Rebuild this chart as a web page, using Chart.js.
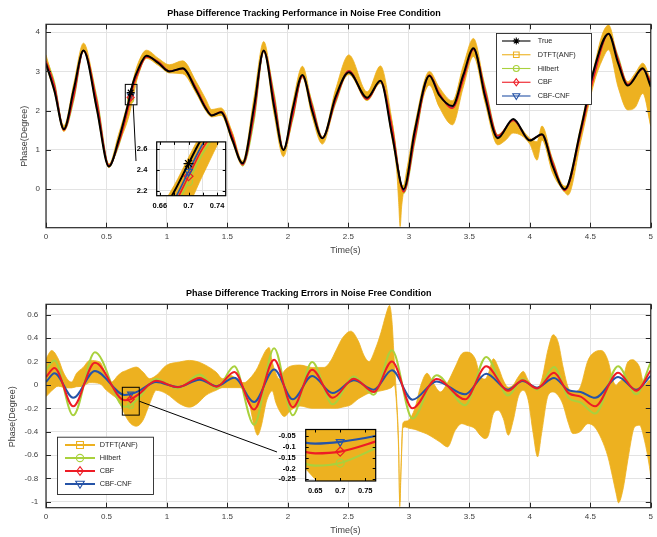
<!DOCTYPE html>
<html><head><meta charset="utf-8"><title>Phase Difference Tracking</title>
<script src="https://cdn.jsdelivr.net/npm/chart.js@4.4.1/dist/chart.umd.min.js"></script>
<style>
html,body{margin:0;padding:0;background:#fff;overflow:hidden}
#wrap{position:relative;width:657px;height:537px;background:#fff}
#wrap canvas{position:absolute}
</style></head><body>
<div id="wrap">
<canvas id="cTop" width="657" height="268" style="left:0;top:0"></canvas>
<canvas id="cBot" width="657" height="269" style="left:0;top:268px"></canvas>
<canvas id="cTopIn" width="112" height="88" style="left:120px;top:128px"></canvas>
<canvas id="cBotIn" width="112" height="85" style="left:270px;top:415px"></canvas>
</div>
<script>
// ---------------- DATA ----------------
const seriesNames = ['True','DTFT(ANF)','Hilbert','CBF','CBF-CNF'];
const xTicks = [0,0.5,1,1.5,2,2.5,3,3.5,4,4.5,5];
const yTicksTop = [0,1,2,3,4];
const yTicksBot = [-1,-0.8,-0.6,-0.4,-0.2,0,0.2,0.4,0.6];
const insetTopXTicks = [0.66,0.68,0.70,0.72,0.74];
const insetTopXLabels = [0.66,0.70,0.74];
const insetTopYTicks = [2.2,2.4,2.6];
const insetBotXTicks = [0.65,0.70,0.75];
const insetBotYTicks = [-0.25,-0.2,-0.15,-0.1,-0.05];
const markerTime = 0.7;

// top plot: phase difference (degree)
const tTop = [0,0.07,0.148,0.23,0.31,0.42,0.52,0.60,0.68,0.70,0.72,0.76,0.83,0.93,1.02,1.13,1.24,1.32,1.37,1.447,1.54,1.625,1.72,1.80,1.886,1.963,2.04,2.12,2.20,2.285,2.395,2.504,2.655,2.765,2.86,2.957,3.05,3.17,3.25,3.36,3.45,3.534,3.63,3.735,3.863,4.00,4.10,4.19,4.29,4.42,4.53,4.651,4.73,4.81,4.934,5.00];
const trueTop = [3.20,2.50,1.53,2.55,3.53,2.05,0.58,1.25,2.19,2.46,2.72,3.04,3.40,3.21,3.00,3.08,2.53,2.06,1.88,1.96,1.26,0.66,2.10,3.53,2.10,1.00,2.05,2.91,2.00,1.30,2.36,2.98,2.33,2.76,1.40,0.00,1.51,2.89,2.40,2.12,2.91,3.59,2.36,1.30,1.79,1.24,1.40,0.58,0.00,1.51,3.04,3.96,3.21,2.64,3.08,2.61];
const cnfTop = [3.225,2.60,1.525,2.44,3.53,2.17,0.60,1.19,2.107,2.383,2.65,2.986,3.38,3.235,3.005,3.065,2.57,2.085,1.88,1.96,1.32,0.63,1.954,3.52,2.233,1.00,1.927,2.89,2.076,1.30,2.30,3.01,2.30,2.76,1.525,-0.04,1.39,2.90,2.43,2.08,2.83,3.57,2.455,1.33,1.76,1.25,1.39,0.64,-0.02,1.45,2.93,3.96,3.278,2.66,3.06,2.69];
const cbfTop = [3.268,2.645,1.51,2.367,3.53,2.24,0.61,1.16,2.062,2.338,2.61,2.957,3.37,3.245,3.01,3.065,2.585,2.095,1.88,1.97,1.365,0.63,1.89,3.53,2.316,1.01,1.86,2.88,2.13,1.31,2.26,3.02,2.29,2.76,1.60,-0.07,1.315,2.91,2.45,2.06,2.79,3.56,2.52,1.36,1.75,1.25,1.39,0.68,-0.03,1.42,2.86,3.96,3.315,2.67,3.06,2.735];
const hilbertTop = [3.33,2.71,1.50,2.29,3.53,2.33,0.63,1.11,2.007,2.285,2.56,2.923,3.36,3.26,3.01,3.055,2.61,2.11,1.87,1.96,1.415,0.60,1.76,3.52,2.415,1.03,1.79,2.88,2.196,1.32,2.21,3.03,2.27,2.78,1.696,-0.10,1.23,2.93,2.48,2.03,2.74,3.55,2.60,1.38,1.72,1.25,1.38,0.73,-0.05,1.36,2.795,3.96,3.37,2.69,3.04,2.806];
const tBandTop = [0,0.07,0.148,0.23,0.31,0.42,0.52,0.60,0.68,0.70,0.72,0.76,0.83,0.93,1.02,1.13,1.24,1.32,1.37,1.447,1.54,1.625,1.72,1.80,1.886,1.963,2.04,2.12,2.20,2.285,2.395,2.504,2.655,2.765,2.86,2.90,2.915,2.928,2.94,2.957,2.98,3.05,3.17,3.25,3.36,3.45,3.534,3.63,3.735,3.80,3.863,4.00,4.06,4.10,4.19,4.29,4.315,4.42,4.53,4.60,4.651,4.73,4.81,4.87,4.934,5.00];
const dtftTopHi = [3.42,2.65,1.62,2.70,3.72,2.25,0.64,1.40,2.25,2.52,2.78,3.20,3.54,3.33,3.17,3.27,2.75,2.30,2.03,2.07,1.45,0.72,2.35,3.76,2.25,1.02,2.20,3.13,2.15,1.33,2.55,3.42,2.48,3.14,1.75,0.85,0.50,0.25,0.10,0.10,0.45,1.65,3.00,2.60,2.25,3.15,3.84,2.55,1.35,1.55,1.72,1.30,1.21,1.61,0.72,0.08,0.15,1.60,3.10,3.95,4.18,3.30,2.74,2.95,3.21,2.79];
const dtftTopLo = [3.15,2.45,1.47,2.45,3.50,1.98,0.55,1.15,1.80,2.05,2.35,2.88,3.33,3.15,2.96,2.94,2.45,2.00,1.84,1.88,1.20,0.60,1.95,3.48,1.90,0.83,1.85,2.84,1.85,1.15,2.25,2.92,2.26,2.70,1.30,0.45,-0.30,-0.95,-0.45,-0.05,0.20,1.40,2.65,2.10,1.64,2.60,3.38,2.20,1.13,1.25,1.43,1.15,0.74,1.25,0.40,-0.08,-0.15,1.20,2.70,3.30,3.55,2.60,2.02,2.08,2.44,1.60];

// bottom plot: tracking errors (degree)
const tErr = [0,0.07,0.225,0.404,0.65,0.70,0.77,0.91,1.09,1.27,1.41,1.557,1.72,1.886,2.04,2.2,2.37,2.545,2.71,2.86,3.03,3.23,3.465,3.64,3.82,3.94,4.06,4.2,4.32,4.42,4.54,4.73,4.88,5.0];
const cnfErr = [0.025,0.10,-0.11,0.12,-0.085,-0.077,-0.05,0.025,-0.018,0.045,-0.01,0.062,-0.146,0.133,-0.123,0.076,-0.069,0.04,-0.04,0.125,-0.126,0.03,-0.08,0.096,-0.04,0.033,-0.023,0.06,-0.045,-0.06,-0.11,0.068,-0.04,0.08];
const cbfErr = [0.068,0.145,-0.183,0.19,-0.13,-0.122,-0.076,0.035,-0.02,0.06,-0.015,0.11,-0.21,0.216,-0.19,0.13,-0.11,0.054,-0.06,0.2,-0.2,0.05,-0.123,0.16,-0.05,0.04,-0.03,0.105,-0.07,-0.10,-0.183,0.105,-0.05,0.125];
const hilbertErr = [0.13,0.21,-0.26,0.28,-0.187,-0.175,-0.107,0.05,-0.03,0.09,-0.03,0.16,-0.34,0.315,-0.26,0.196,-0.166,0.073,-0.083,0.296,-0.288,0.082,-0.174,0.24,-0.09,0.05,-0.04,0.153,-0.11,-0.15,-0.245,0.16,-0.08,0.196];
const tBandErr = [0,0.047,0.101,0.143,0.184,0.211,0.253,0.307,0.362,0.445,0.50,0.541,0.596,0.63,0.655,0.70,0.747,0.802,0.857,0.912,0.994,1.104,1.186,1.25,1.323,1.406,1.46,1.529,1.598,1.64,1.68,1.72,1.75,1.78,1.82,1.845,1.87,1.90,1.93,1.97,2.02,2.10,2.20,2.30,2.35,2.40,2.45,2.52,2.58,2.63,2.67,2.72,2.77,2.81,2.84,2.86,2.88,2.895,2.915,2.925,2.935,2.95,2.97,3.00,3.05,3.10,3.15,3.20,3.26,3.32,3.383,3.438,3.479,3.548,3.589,3.63,3.658,3.699,3.74,3.781,3.822,3.863,3.905,3.946,3.987,4.028,4.064,4.097,4.152,4.193,4.234,4.275,4.316,4.357,4.412,4.481,4.536,4.591,4.646,4.687,4.714,4.733,4.769,4.81,4.852,4.866,4.907,4.948,4.989,5.0];
const dtftErrHi = [0.224,0.295,0.224,0.11,0.04,0.025,0.10,0.15,0.21,0.196,0.082,0.025,0.082,0.11,0.12,0.14,0.153,0.11,0.054,0.082,0.167,0.196,0.21,0.20,0.167,0.11,0.054,0.08,0.025,0.02,0.05,0.10,0.15,0.22,0.30,0.32,0.20,0.10,0.05,0.12,0.16,0.17,0.15,0.15,0.20,0.30,0.40,0.46,0.38,0.25,0.20,0.30,0.45,0.60,0.68,0.55,0.20,-0.05,-0.50,-1.00,-0.70,-0.33,-0.31,-0.30,-0.20,0.00,0.10,0.02,-0.06,0.02,0.153,0.267,0.281,0.224,0.08,0.05,0.10,0.224,0.15,0.04,-0.02,0.0,0.07,0.116,0.04,-0.01,-0.02,0.04,0.31,0.429,0.366,0.153,-0.018,-0.06,-0.03,0.21,0.281,0.295,0.21,0.04,-0.003,0.02,0.06,0.196,0.216,0.21,0.153,-0.003,0.04,0.04];
const dtftErrLo = [-0.10,-0.05,-0.01,-0.02,-0.025,-0.025,-0.015,-0.01,0.02,0.011,-0.046,-0.08,-0.13,-0.20,-0.26,-0.33,-0.353,-0.302,-0.16,-0.046,-0.074,-0.16,-0.19,-0.16,-0.088,-0.046,-0.023,-0.023,-0.023,-0.05,-0.15,-0.35,-0.43,-0.35,-0.15,-0.08,-0.05,-0.15,-0.22,-0.27,-0.22,-0.18,-0.20,-0.20,-0.20,-0.20,-0.19,-0.17,-0.12,-0.09,-0.07,-0.06,-0.05,-0.04,-0.03,-0.02,0.0,-0.12,-0.55,-1.04,-0.75,-0.37,-0.36,-0.37,-0.38,-0.40,-0.42,-0.45,-0.49,-0.53,-0.388,-0.331,-0.345,-0.374,-0.43,-0.459,-0.43,-0.245,-0.217,-0.288,-0.43,-0.302,-0.10,-0.046,-0.131,-0.416,-0.615,-0.416,-0.088,-0.06,-0.09,-0.17,-0.317,-0.416,-0.402,-0.331,-0.359,-0.459,-0.615,-0.80,-0.93,-1.008,-0.90,-0.644,-0.40,-0.359,-0.345,-0.473,-0.70,-0.786];

// zoom windows [xmin, xmax, ymin, ymax]
const zoomTop = [0.6555,0.752,2.15,2.67];
const zoomBot = [0.631,0.771,-0.258,-0.02];

// ---------------- STYLE ----------------
const FONT = '"Liberation Sans", Arial, Helvetica, sans-serif';
Chart.defaults.font.family = FONT;
const COL = {true:'#000000', dtft:'#EDB120', hil:'#A9D13D', cbf:'#EE1C25', cnf:'#2553A7'};

function pts(xs, ys){ return xs.map((x,i)=>({x:x, y:ys[i]})); }
function lineDs(label, xs, ys, color, w, style, rot, r){
  return {label, data: pts(xs,ys), borderColor: color, backgroundColor:'rgba(0,0,0,0)', borderWidth: w,
    pointStyle: style, pointRotation: rot||0, pointBorderColor: color, pointBackgroundColor:'rgba(0,0,0,0)',
    pointBorderWidth: 1.2, pointRadius: c => (c.raw && c.raw.x === markerTime) ? r : 0, pointHoverRadius:0,
    fill:false, cubicInterpolationMode:'monotone'};
}
function bandDs(xs, hi, lo, color){
  return [
    {label:'hi', data: pts(xs,hi), borderColor: color, backgroundColor: color, borderWidth: 0.8, pointRadius:0, fill:'+1', cubicInterpolationMode:'monotone'},
    {label:'lo', data: pts(xs,lo), borderColor: color, backgroundColor: color, borderWidth: 0.8, pointRadius:0, fill:false, cubicInterpolationMode:'monotone'}
  ];
}
function drawMarker(ctx, style, x, y, r, color){
  ctx.save(); ctx.strokeStyle = color; ctx.lineWidth = 1.1; ctx.beginPath();
  if (style === 'star'){ for (let k=0;k<4;k++){ const a=k*Math.PI/4; ctx.moveTo(x-r*Math.cos(a), y-r*Math.sin(a)); ctx.lineTo(x+r*Math.cos(a), y+r*Math.sin(a)); } }
  else if (style === 'rect'){ ctx.rect(x-r*0.8, y-r*0.8, 1.6*r, 1.6*r); }
  else if (style === 'circle'){ ctx.arc(x, y, r*0.85, 0, 2*Math.PI); }
  else if (style === 'rectRot'){ ctx.moveTo(x, y-r); ctx.lineTo(x+r*0.75, y); ctx.lineTo(x, y+r); ctx.lineTo(x-r*0.75, y); ctx.closePath(); }
  else if (style === 'triDown'){ ctx.moveTo(x-r, y-r*0.65); ctx.lineTo(x+r, y-r*0.65); ctx.lineTo(x, y+r); ctx.closePath(); }
  ctx.stroke(); ctx.restore();
}

// ---------------- PLUGINS ----------------
const bgPlugin = {id:'areaBg', beforeDraw(c, a, o){ if(!o.color) return; const ar=c.chartArea, ctx=c.ctx; ctx.save(); ctx.fillStyle=o.color; ctx.fillRect(ar.left, ar.top, ar.right-ar.left, ar.bottom-ar.top); ctx.restore(); }};
const boxPlugin = {id:'mbox', afterDatasetsDraw(c, a, o){
  const ctx=c.ctx, ar=c.chartArea, x=c.scales.x, y=c.scales.y, L=o.tick||5;
  ctx.save(); ctx.strokeStyle=o.color||'#262626'; ctx.lineWidth=o.width||1;
  ctx.beginPath();
  x.ticks.forEach(t=>{ const p=Math.round(x.getPixelForValue(t.value))+0.5; ctx.moveTo(p, ar.bottom); ctx.lineTo(p, ar.bottom-L); ctx.moveTo(p, ar.top); ctx.lineTo(p, ar.top+L); });
  y.ticks.forEach(t=>{ const p=Math.round(y.getPixelForValue(t.value))+0.5; ctx.moveTo(ar.left, p); ctx.lineTo(ar.left+L, p); ctx.moveTo(ar.right, p); ctx.lineTo(ar.right-L, p); });
  ctx.stroke();
  ctx.lineWidth=o.frame||1.2;
  ctx.strokeRect(ar.left, ar.top, ar.right-ar.left, ar.bottom-ar.top);
  ctx.restore();
}};
const zoomPlugin = {id:'zoomRect', afterDatasetsDraw(c, a, o){
  if(!o.rect) return;
  const ctx=c.ctx, x=c.scales.x, y=c.scales.y, r=o.rect;
  const x0=x.getPixelForValue(r[0]), x1=x.getPixelForValue(r[1]), y0=y.getPixelForValue(r[3]), y1=y.getPixelForValue(r[2]);
  ctx.save(); ctx.strokeStyle='#000'; ctx.lineWidth=1;
  ctx.strokeRect(x0, y0, x1-x0, y1-y0);
  let sx, sy;
  if (o.from === 'bottom'){ sx = x0 + (x1-x0)*0.68; sy = y1; } else { sx = x1; sy = (y0+y1)/2; }
  ctx.beginPath(); ctx.moveTo(sx, sy); ctx.lineTo(o.to[0], o.to[1]); ctx.stroke();
  ctx.restore();
}};
const textPlugin = {id:'mtext', afterDraw(c, a, o){
  const ctx=c.ctx;
  (o.items||[]).forEach(it=>{ ctx.save(); ctx.font=it.font; ctx.fillStyle=it.color; ctx.textAlign='center'; ctx.textBaseline='middle';
    ctx.translate(it.x, it.y); if(it.rot) ctx.rotate(it.rot); ctx.fillText(it.text, 0, 0); ctx.restore(); });
}};
const legendPlugin = {id:'mlegend', afterDraw(c, a, o){
  if(!o.items) return;
  const ctx=c.ctx, b=o.box;
  ctx.save(); ctx.fillStyle='#fff'; ctx.fillRect(b[0], b[1], b[2], b[3]);
  ctx.strokeStyle='#262626'; ctx.lineWidth=0.9; ctx.strokeRect(b[0]+0.5, b[1]+0.5, b[2], b[3]);
  o.items.forEach((it, i)=>{
    const cy=o.y0 + i*o.dy;
    ctx.strokeStyle=it.color; ctx.lineWidth=o.lw; ctx.beginPath(); ctx.moveTo(o.lx[0], cy); ctx.lineTo(o.lx[1], cy); ctx.stroke();
    drawMarker(ctx, it.style, o.mx, cy, o.mr, it.color);
    ctx.fillStyle='#262626'; ctx.font=o.font; ctx.textAlign='left'; ctx.textBaseline='middle'; ctx.fillText(it.label, o.tx, cy);
  });
  ctx.restore();
}};

function makeScales(cfg){
  const tickFont = cfg.tickFont || {family:FONT, size:8};
  const tickColor = cfg.tickColor || '#404040';
  return {
    x:{type:'linear', min:cfg.x[0], max:cfg.x[1],
      afterBuildTicks: s=>{ s.ticks = cfg.xt.map(v=>({value:v})); },
      afterFit: s=>{ s.height = cfg.xh; },
      grid:{color:'#e3e3e3', lineWidth:1, drawTicks:false}, border:{display:false},
      ticks:{font:tickFont, color:tickColor, padding:cfg.xpad, autoSkip:false, maxRotation:0, minRotation:0,
        callback: v => (cfg.xl ? (cfg.xl.indexOf(v) >= 0 ? String(v) : '') : String(v))}},
    y:{type:'linear', min:cfg.y[0], max:cfg.y[1],
      afterBuildTicks: s=>{ s.ticks = cfg.yt.map(v=>({value:v})); },
      afterFit: s=>{ s.width = cfg.yw; },
      grid:{color:'#e3e3e3', lineWidth:1, drawTicks:false}, border:{display:false},
      ticks:{font:tickFont, color:tickColor, padding:cfg.ypad, autoSkip:false, callback: v => String(v)}}
  };
}
function baseOptions(pad, scales, plugins){
  return {responsive:false, animation:false, devicePixelRatio:1, events:[],
    layout:{padding:pad},
    plugins:Object.assign({legend:{display:false}, tooltip:{enabled:false}, title:{display:false}}, plugins),
    scales:scales};
}

const axFont = '9px ' + FONT, titleFont = 'bold 9px ' + FONT;

// ---------------- TOP CHART ----------------
new Chart(document.getElementById('cTop'), {
  type:'line',
  data:{datasets:[
    lineDs(seriesNames[0], tTop, trueTop, COL.true, 2, 'star', 0, 4),
    lineDs(seriesNames[3], tTop, cbfTop, COL.cbf, 1.5, 'rectRot', 0, 3.5),
    lineDs(seriesNames[4], tTop, cnfTop, COL.cnf, 1.5, 'triangle', 180, 3.5),
    ...bandDs(tBandTop, dtftTopHi, dtftTopLo, COL.dtft),
    lineDs(seriesNames[2], tTop, hilbertTop, COL.hil, 1.5, 'circle', 0, 3)
  ]},
  options: baseOptions({left:0, right:4, top:24.3, bottom:0},
    makeScales({x:[0,5], y:[-0.98,4.2], xt:xTicks, yt:yTicksTop, xh:40.3, yw:46, xpad:4, ypad:6}),
    {
      mbox:{color:'#262626', width:1, tick:5, frame:1.2},
      zoomRect:{rect:zoomTop, from:'bottom', to:[136,161]},
      mtext:{items:[
        {text:'Phase Difference Tracking Performance in Noise Free Condition', x:304, y:14, font:titleFont, color:'#000'},
        {text:'Time(s)', x:345.3, y:250.8, font:axFont, color:'#404040'},
        {text:'Phase(Degree)', x:24.5, y:136.3, font:axFont, color:'#404040', rot:-Math.PI/2}
      ]},
      mlegend:{box:[496,33,95,71], y0:41, dy:13.75, lx:[502,530.5], mx:516.3, mr:3.5, tx:537.7, lw:1.1, font:'7.3px '+FONT,
        items:[
          {label:seriesNames[0], color:COL.true, style:'star'},
          {label:seriesNames[1], color:COL.dtft, style:'rect'},
          {label:seriesNames[2], color:COL.hil, style:'circle'},
          {label:seriesNames[3], color:COL.cbf, style:'rectRot'},
          {label:seriesNames[4], color:COL.cnf, style:'triDown'}
        ]}
    }),
  plugins:[boxPlugin, zoomPlugin, textPlugin, legendPlugin]
});

// ---------------- BOTTOM CHART ----------------
new Chart(document.getElementById('cBot'), {
  type:'line',
  data:{datasets:[
    lineDs(seriesNames[3], tErr, cbfErr, COL.cbf, 2, 'rectRot', 0, 3.5),
    lineDs(seriesNames[4], tErr, cnfErr, COL.cnf, 2, 'triangle', 180, 3.5),
    lineDs(seriesNames[2], tErr, hilbertErr, COL.hil, 2, 'circle', 0, 3),
    ...bandDs(tBandErr, dtftErrHi, dtftErrLo, COL.dtft)
  ]},
  options: baseOptions({left:0, right:4, top:36.3, bottom:0},
    makeScales({x:[0,5], y:[-1.05,0.69], xt:xTicks, yt:yTicksBot, xh:29.3, yw:46, xpad:4, ypad:7.7}),
    {
      mbox:{color:'#262626', width:1, tick:5, frame:1.2},
      zoomRect:{rect:zoomBot, from:'right', to:[277,184]},
      mtext:{items:[
        {text:'Phase Difference Tracking Errors in Noise Free Condition', x:308.8, y:26, font:titleFont, color:'#000'},
        {text:'Time(s)', x:345.3, y:262.8, font:axFont, color:'#404040'},
        {text:'Phase(Degree)', x:12.5, y:148.7, font:axFont, color:'#404040', rot:-Math.PI/2}
      ]},
      mlegend:{box:[57,168.7,96,57.3], y0:177, dy:13, lx:[65,95], mx:80, mr:4.3, tx:99.7, lw:2, font:'7.3px '+FONT,
        items:[
          {label:seriesNames[1], color:COL.dtft, style:'rect'},
          {label:seriesNames[2], color:COL.hil, style:'circle'},
          {label:seriesNames[3], color:COL.cbf, style:'rectRot'},
          {label:seriesNames[4], color:COL.cnf, style:'triDown'}
        ]}
    }),
  plugins:[boxPlugin, zoomPlugin, textPlugin, legendPlugin]
});

// ---------------- INSETS ----------------
const insetTickFont = {family:FONT, size:7.5, weight:'bold'};
new Chart(document.getElementById('cTopIn'), {
  type:'line',
  data:{datasets:[
    Object.assign(lineDs(seriesNames[0], tTop, trueTop, COL.true, 2, 'star', 0, 5), {clip:0}),
    Object.assign(lineDs(seriesNames[4], tTop, cnfTop, COL.cnf, 1.6, 'triangle', 180, 4.5), {clip:0}),
    Object.assign(lineDs(seriesNames[3], tTop, cbfTop, COL.cbf, 1.6, 'rectRot', 0, 4.5), {clip:0}),
    Object.assign(lineDs(seriesNames[2], tTop, hilbertTop, COL.hil, 1.6, 'circle', 0, 4), {clip:0}),
    ...bandDs(tBandTop, dtftTopHi, dtftTopLo, COL.dtft).map(d=>Object.assign(d,{clip:0}))
  ]},
  options: baseOptions({left:0, right:6.3, top:7, bottom:0},
    makeScales({x:[zoomTop[0],zoomTop[1]], y:[zoomTop[2],zoomTop[3]], xt:insetTopXTicks, xl:insetTopXLabels, yt:insetTopYTicks,
      xh:20.3, yw:36.7, xpad:5.8, ypad:9.4, tickFont:insetTickFont, tickColor:'#000'}),
    {areaBg:{color:'#ffffff'}, mbox:{color:'#000', width:1, tick:3, frame:1.2}}),
  plugins:[bgPlugin, boxPlugin]
});
new Chart(document.getElementById('cBotIn'), {
  type:'line',
  data:{datasets:[
    Object.assign(lineDs(seriesNames[3], tErr, cbfErr, COL.cbf, 2.2, 'rectRot', 0, 4.5), {clip:0}),
    Object.assign(lineDs(seriesNames[4], tErr, cnfErr, COL.cnf, 2.2, 'triangle', 180, 4.5), {clip:0}),
    Object.assign(lineDs(seriesNames[2], tErr, hilbertErr, COL.hil, 2.2, 'circle', 0, 4), {clip:0}),
    ...bandDs(tBandErr, dtftErrHi, dtftErrLo, COL.dtft).map(d=>Object.assign(d,{clip:0}))
  ]},
  options: baseOptions({left:0, right:6.3, top:5.7, bottom:0},
    makeScales({x:[zoomBot[0],zoomBot[1]], y:[zoomBot[2],zoomBot[3]], xt:insetBotXTicks, yt:insetBotYTicks,
      xh:19, yw:35.7, xpad:5.2, ypad:10, tickFont:insetTickFont, tickColor:'#000'}),
    {areaBg:{color:'#ffffff'}, mbox:{color:'#000', width:1, tick:3, frame:1.2}}),
  plugins:[bgPlugin, boxPlugin]
});
</script></body></html>
